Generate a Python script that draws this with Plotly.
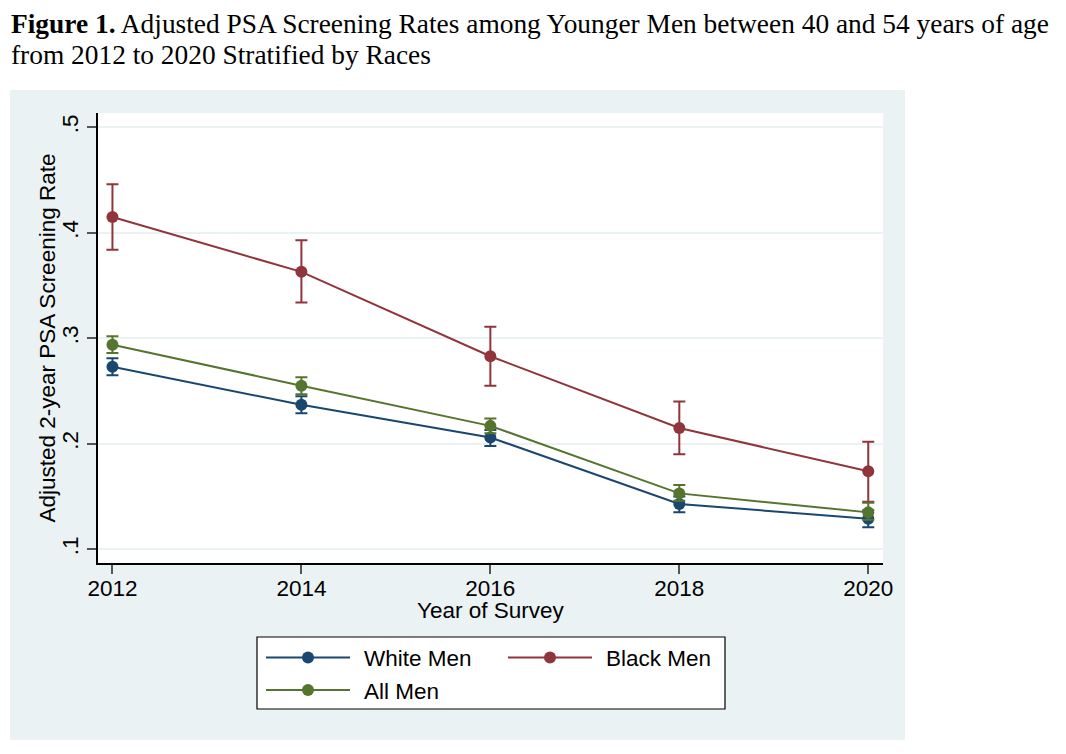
import plotly.graph_objects as go

# ---- data ----
years = [2012, 2014, 2016, 2018, 2020]

white = [0.273, 0.237, 0.206, 0.143, 0.129]
white_lo = [0.265, 0.229, 0.198, 0.135, 0.121]
white_hi = [0.281, 0.245, 0.213, 0.150, 0.137]

black = [0.415, 0.363, 0.283, 0.215, 0.174]
black_lo = [0.384, 0.334, 0.255, 0.190, 0.145]
black_hi = [0.446, 0.393, 0.311, 0.240, 0.202]

allmen = [0.294, 0.255, 0.217, 0.153, 0.135]
allmen_lo = [0.286, 0.247, 0.210, 0.146, 0.128]
allmen_hi = [0.302, 0.263, 0.224, 0.161, 0.144]

y_ticks = [0.1, 0.2, 0.3, 0.4, 0.5]
y_ticklabels = [".1", ".2", ".3", ".4", ".5"]
x_ticks = [2012, 2014, 2016, 2018, 2020]

title_line1 = "<b>Figure 1.</b> Adjusted PSA Screening Rates among Younger Men between 40 and 54 years of age"
title_line2 = "from 2012 to 2020 Stratified by Races"
x_title = "Year of Survey"
y_title = "Adjusted 2-year PSA Screening Rate"

# ---- layout geometry (pixels, in window coordinates) ----
OFF = 8                      # default page margin of the html body
FW, FH = 1066 - OFF, 754 - OFF
L, R, T, B = 98, 883, 113, 563


def px(x):
    return (x - L) / (R - L)


def py(y):
    return (B - y) / (B - T)


NAVY = "#1a476f"
MAROON = "#90353b"
GREEN = "#55752f"
BGREG = "#EAF2F3"
SANS = "Liberation Sans, Arial, sans-serif"
SERIF = "Liberation Serif, Times New Roman, serif"
FS = 22.5

series = [
    ("White Men", white, white_lo, white_hi, NAVY),
    ("Black Men", black, black_lo, black_hi, MAROON),
    ("All Men", allmen, allmen_lo, allmen_hi, GREEN),
]

fig = go.Figure()
for name, v, lo, hi, col in series:
    fig.add_trace(go.Scatter(
        x=years, y=v, name=name, mode="lines+markers",
        line=dict(color=col, width=2),
        marker=dict(color=col, size=12, symbol="circle"),
        error_y=dict(type="data", symmetric=False,
                     array=[h - a for h, a in zip(hi, v)],
                     arrayminus=[a - l for a, l in zip(v, lo)],
                     color=col, thickness=2, width=6),
        showlegend=False,
    ))

shapes = [
    dict(type="rect", xref="paper", yref="paper",
         x0=px(10), x1=px(905), y0=py(740), y1=py(90),
         fillcolor=BGREG, line=dict(width=0), layer="below"),
    dict(type="rect", xref="paper", yref="paper",
         x0=0, x1=1, y0=0, y1=1,
         fillcolor="white", line=dict(width=0), layer="below"),
    # legend box
    dict(type="rect", xref="paper", yref="paper",
         x0=px(257), x1=px(725), y0=py(709), y1=py(637),
         fillcolor="white", line=dict(color="black", width=1.2), layer="above"),
]

annotations = [
    dict(text=title_line1, xref="paper", yref="paper",
         x=px(9), y=py(6.5), xanchor="left", yanchor="top", showarrow=False,
         font=dict(family=SERIF, size=27.4, color="black")),
    dict(text=title_line2, xref="paper", yref="paper",
         x=px(9), y=py(37.5), xanchor="left", yanchor="top", showarrow=False,
         font=dict(family=SERIF, size=27.4, color="black")),
    dict(text=x_title, xref="paper", yref="paper",
         x=0.5, y=py(610.5), xanchor="center", yanchor="middle", showarrow=False,
         font=dict(family=SANS, size=FS, color="black")),
    dict(text=y_title, xref="paper", yref="paper", textangle=-90,
         x=px(46.5), y=0.5, xanchor="center", yanchor="middle", showarrow=False,
         font=dict(family=SANS, size=FS, color="black")),
]

# legend (Stata style: long line sample with a dot, two columns)
legend_slots = [(266, 657.5), (508, 657.5), (266, 690)]
for (name, v, lo, hi, col), (lx, ly) in zip(series, legend_slots):
    shapes.append(dict(type="line", xref="paper", yref="paper",
                       x0=px(lx), x1=px(lx + 84), y0=py(ly), y1=py(ly),
                       line=dict(color=col, width=2), layer="above"))
    shapes.append(dict(type="circle", xref="paper", yref="paper",
                       xsizemode="pixel", ysizemode="pixel",
                       xanchor=px(lx + 42), yanchor=py(ly),
                       x0=-6, x1=6, y0=-6, y1=6,
                       fillcolor=col, line=dict(color=col, width=0), layer="above"))
    annotations.append(dict(text=name, xref="paper", yref="paper",
                            x=px(lx + 96), y=py(ly + 1), xanchor="left", yanchor="middle",
                            showarrow=False,
                            font=dict(family=SANS, size=FS, color="black")))

fig.update_layout(
    width=FW, height=FH,
    margin=dict(l=L - OFF, r=FW - (R - OFF), t=T - OFF, b=FH - (B - OFF), autoexpand=False),
    paper_bgcolor="white",
    plot_bgcolor="white",
    font=dict(family=SANS, size=FS, color="black"),
    showlegend=False,
    shapes=shapes,
    annotations=annotations,
)

fig.update_xaxes(
    range=[2011.847, 2020.156],
    tickvals=x_ticks, ticktext=[str(t) for t in x_ticks],
    ticks="outside", ticklen=9, tickwidth=1.5, tickcolor="#555555",
    ticklabelstandoff=-5,
    showline=True, linecolor="black", linewidth=1.5,
    showgrid=False, zeroline=False,
    tickfont=dict(size=FS),
)
fig.update_yaxes(
    range=[0.087, 0.5136],
    tickvals=y_ticks, ticktext=y_ticklabels, tickangle=-90,
    ticks="outside", ticklen=9, tickwidth=1.5, tickcolor="#555555",
    ticklabelstandoff=0,
    showline=True, linecolor="black", linewidth=1.5,
    showgrid=True, gridcolor=BGREG, gridwidth=2,
    zeroline=False,
    tickfont=dict(size=FS),
)

fig.write_html("out.html")
